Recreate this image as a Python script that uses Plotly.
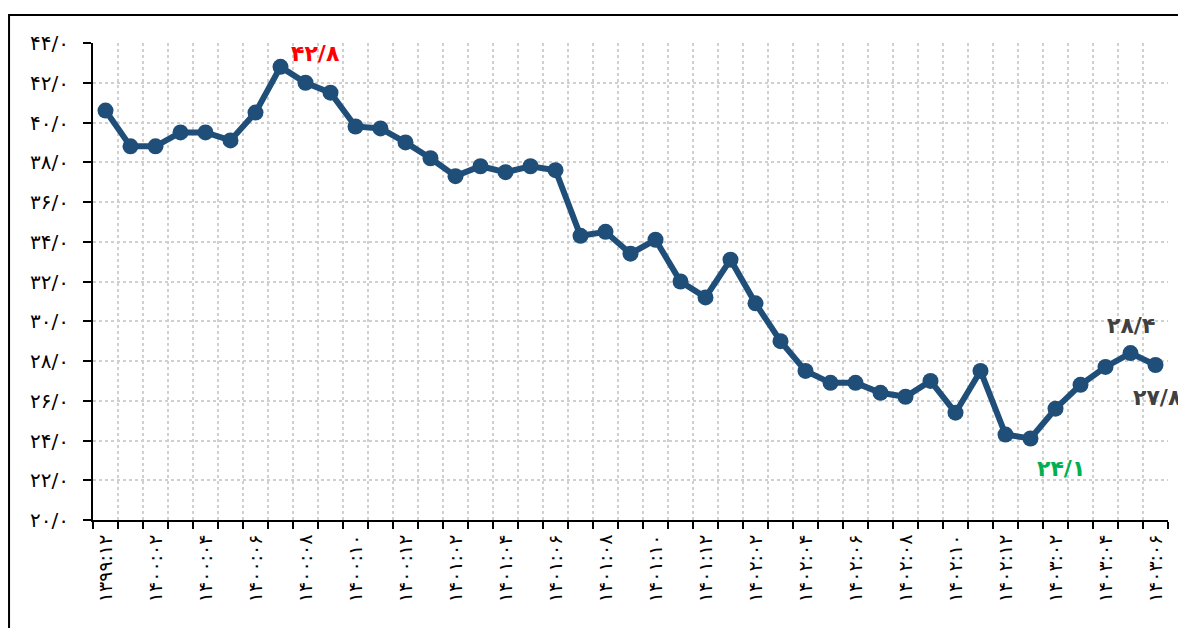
import plotly.graph_objects as go

def fa(s):
    return s.translate(str.maketrans("0123456789", "۰۱۲۳۴۵۶۷۸۹"))

# monthly periods 1399:12 .. 1403:06
periods = ["1399:12"]
for yr in range(1400, 1404):
    for m in range(1, 13):
        if yr == 1403 and m > 6:
            break
        periods.append(f"{yr}:{m:02d}")
categories = [fa(p) for p in periods]

values = [40.6, 38.8, 38.8, 39.5, 39.5, 39.1, 40.5, 42.8, 42.0, 41.5,
          39.8, 39.7, 39.0, 38.2, 37.3, 37.8, 37.5, 37.8, 37.6, 34.3,
          34.5, 33.4, 34.1, 32.0, 31.2, 33.1, 30.9, 29.0, 27.5, 26.9,
          26.9, 26.4, 26.2, 27.0, 25.4, 27.5, 24.3, 24.1, 25.6, 26.8,
          27.7, 28.4, 27.8]

ytick_vals = list(range(20, 45, 2))
ytick_text = [fa(f"{v}/0") for v in ytick_vals]
xtick_text = [c if i % 2 == 0 else "" for i, c in enumerate(categories)]

ann_points = [  # (index, text, color, xshift, yshift)
    (7, "42/8", "#FF0000", 35, 13),
    (41, "28/4", "#404040", 0, 28),
    (42, "27/8", "#404040", 2, -33),
    (37, "24/1", "#00B050", 30, -30),
]

font_family = "DejaVu Sans"

fig = go.Figure()
fig.add_trace(go.Scatter(
    x=categories, y=values, mode="lines+markers",
    line=dict(color="#1F4E79", width=6),
    marker=dict(color="#1F4E79", size=16),
    hoverinfo="skip", showlegend=False,
))

for idx, txt, col, xs, ys in ann_points:
    fig.add_annotation(x=categories[idx], y=values[idx], text="<b>" + fa(txt) + "</b>",
                       showarrow=False, xshift=xs, yshift=ys,
                       font=dict(color=col, size=22, family=font_family))

fig.add_shape(type="rect", xref="paper", yref="paper",
              x0=-0.0781, x1=1.05, y0=-0.3, y1=1.0587,
              line=dict(color="black", width=2), layer="below")

fig.update_layout(
    width=1178, height=620,
    margin=dict(l=85, r=18, t=35, b=108, autoexpand=False),
    paper_bgcolor="white", plot_bgcolor="white",
    font=dict(family=font_family, color="black"),
)
fig.update_xaxes(
    type="category", tickmode="array", tickvals=categories, ticktext=xtick_text,
    tickson="boundaries", ticks="outside", ticklen=7, tickwidth=2, tickcolor="black",
    tickangle=-90, tickfont=dict(size=19, family=font_family),
    ticklabelstandoff=5,
    showline=True, linecolor="black", linewidth=2, automargin=False,
    showgrid=True, gridcolor="#D0D0D0", griddash="dot", gridwidth=2,
    range=[-0.5, len(categories) - 0.5],
)
fig.update_yaxes(
    range=[20, 44], tickmode="array", tickvals=ytick_vals, ticktext=ytick_text,
    ticks="outside", ticklen=8, tickwidth=2, tickcolor="black",
    tickfont=dict(size=20, family=font_family), automargin=False,
    ticklabelstandoff=10,
    showline=True, linecolor="black", linewidth=2,
    showgrid=True, gridcolor="#D0D0D0", griddash="dot", gridwidth=2,
    zeroline=False,
)

fig.write_html("out.html")
